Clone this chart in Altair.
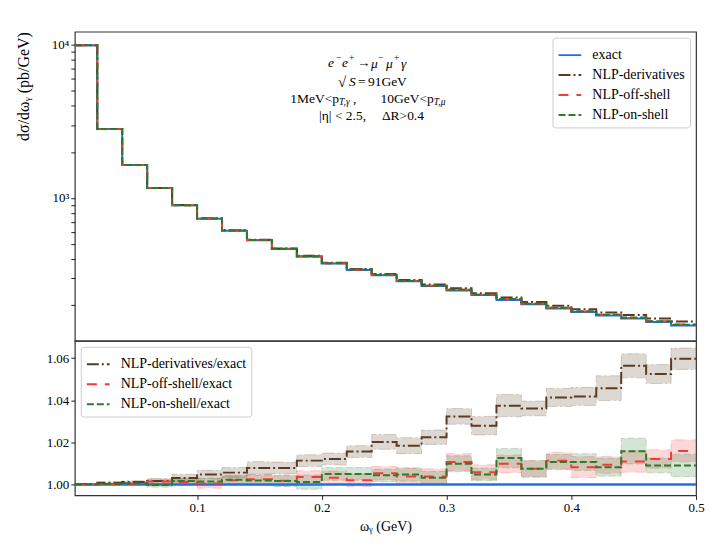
import altair as alt
import pandas as pd

# ---------------- data ----------------
edges = [0.002, 0.02, 0.04, 0.06, 0.08, 0.10, 0.12, 0.14, 0.16, 0.18, 0.20,
         0.22, 0.24, 0.26, 0.28, 0.30, 0.32, 0.34, 0.36, 0.38, 0.40,
         0.42, 0.44, 0.46, 0.48, 0.50]

exact = [9950, 2818, 1641, 1162, 896, 733, 612, 530, 465, 415, 373, 339,
         313, 286, 266, 249, 232, 216, 202, 190, 180, 171, 163, 155, 147]

r_deriv = [1.0002, 1.0008, 1.0011, 1.0016, 1.0030, 1.0047, 1.0056, 1.0078,
           1.0078, 1.0113, 1.0121, 1.0156, 1.0202, 1.0184, 1.0224, 1.0323,
           1.0279, 1.0374, 1.0361, 1.0413, 1.0418, 1.0457, 1.0563, 1.0524, 1.0597]
e_deriv = [0.0002, 0.0004, 0.0007, 0.0012, 0.0018, 0.0020, 0.0024, 0.0030,
           0.0028, 0.0028, 0.0028, 0.0028, 0.0035, 0.0038, 0.0034, 0.0037,
           0.0044, 0.0053, 0.0035, 0.0043, 0.0043, 0.0059, 0.0057, 0.0045, 0.0051]

r_off = [1.0000, 1.0001, 1.0003, 1.0014, 1.0011, 1.0004, 1.0020, 1.0025,
         1.0018, 1.0035, 1.0032, 1.0020, 1.0053, 1.0038, 1.0038, 1.0106,
         1.0058, 1.0098, 1.0074, 1.0113, 1.0082, 1.0093, 1.0109, 1.0121, 1.0159]
e_off = [0.0001, 0.0002, 0.0005, 0.0010, 0.0015, 0.0022, 0.0022, 0.0024,
         0.0026, 0.0030, 0.0032, 0.0030, 0.0032, 0.0038, 0.0036, 0.0040,
         0.0035, 0.0042, 0.0038, 0.0039, 0.0050, 0.0040, 0.0051, 0.0044, 0.0053]

r_on = [1.0000, 1.0002, 1.0005, 0.9997, 1.0016, 1.0014, 1.0022, 1.0019,
        1.0016, 1.0011, 1.0050, 1.0050, 1.0043, 1.0047, 1.0032, 1.0098,
        1.0047, 1.0125, 1.0074, 1.0106, 1.0106, 1.0082, 1.0158, 1.0090, 1.0090]
e_on = [0.0001, 0.0002, 0.0005, 0.0010, 0.0014, 0.0016, 0.0020, 0.0024,
        0.0026, 0.0034, 0.0030, 0.0030, 0.0030, 0.0032, 0.0030, 0.0038,
        0.0030, 0.0046, 0.0040, 0.0036, 0.0040, 0.0043, 0.0061, 0.0035, 0.0053]

top_names = ["exact", "NLP-derivatives", "NLP-off-shell", "NLP-on-shell"]
ratio_names = ["NLP-derivatives/exact", "NLP-off-shell/exact", "NLP-on-shell/exact"]

y_ticks_top = [200, 300, 400, 500, 600, 700, 800, 900, 1000,
               2000, 3000, 4000, 5000, 6000, 7000, 8000, 9000, 10000]
y_ticks_bottom = [1.00, 1.02, 1.04, 1.06]
x_ticks = [0.1, 0.2, 0.3, 0.4, 0.5]

# ---------------- styles ----------------
C_EXACT = "#1f6fe6"
C_DER = "#5b3b22"
C_OFF = "#f23a3a"
C_ON = "#2b7b2b"
DASH_SOLID = [1, 0]
DASH_DER = [12, 3, 2, 3]
DASH_OFF = [10, 8]
DASH_ON = [7, 3]
FONT = "Liberation Serif"
NB = "\u00a0"


def steps(vals):
    return list(vals) + [vals[-1]]


# top panel frame
rows = []
series_top = {
    "exact": exact,
    "NLP-derivatives": [a * b for a, b in zip(exact, r_deriv)],
    "NLP-off-shell": [a * b for a, b in zip(exact, r_off)],
    "NLP-on-shell": [a * b for a, b in zip(exact, r_on)],
}
for name, vals in series_top.items():
    for x, v in zip(edges, steps(vals)):
        rows.append({"series": name, "x": x, "y": v})
top_df = pd.DataFrame(rows)

# bottom panel frame
brows = []
for name, r, e in [(ratio_names[0], r_deriv, e_deriv),
                   (ratio_names[1], r_off, e_off),
                   (ratio_names[2], r_on, e_on)]:
    for x, v, err in zip(edges, steps(r), steps(e)):
        brows.append({"series": name, "x": x, "y": v, "lo": v - err, "hi": v + err})
bot_df = pd.DataFrame(brows)
one_df = pd.DataFrame({"x": [edges[0], edges[-1]], "y": [1.0, 1.0]})

xscale = alt.Scale(domain=[edges[0], edges[-1]], nice=False, zero=False)

# ---------------- top panel ----------------
top_color = alt.Scale(domain=top_names, range=[C_EXACT, C_DER, C_OFF, C_ON])
top_dash = alt.Scale(domain=top_names, range=[DASH_SOLID, DASH_DER, DASH_OFF, DASH_ON])
leg_common = dict(title=None, symbolType="stroke", symbolSize=520, symbolStrokeWidth=2,
                  labelFont=FONT, labelFontSize=14, labelOffset=10, rowPadding=0,
                  padding=5, fillColor="white", strokeColor="#cccccc", cornerRadius=3,
                  offset=6)
top_legend = alt.Legend(orient="top-right", **leg_common)

y_top = alt.Y("y:Q", scale=alt.Scale(type="log", domain=[116.7, 12200], nice=False),
              axis=alt.Axis(values=y_ticks_top,
                            labelExpr="datum.value == 1000 ? '10³' : datum.value == 10000 ? '10⁴' : ''",
                            title="dσ/dωᵧ (pb/GeV)", titleAnchor="end", titleFontSize=16,
                            titleFontWeight="normal", titlePadding=16,
                            minExtent=27, maxExtent=27, grid=False, tickSize=4,
                            labelFontSize=13))
x_top = alt.X("x:Q", scale=xscale, axis=None)

top_layers = []
for name in top_names:
    top_layers.append(
        alt.Chart(top_df).transform_filter(alt.datum.series == name)
        .mark_line(interpolate="step-after", strokeWidth=2)
        .encode(x=x_top, y=y_top,
                color=alt.Color("series:N", scale=top_color, legend=top_legend),
                strokeDash=alt.StrokeDash("series:N", scale=top_dash, legend=top_legend))
    )

ann = pd.DataFrame({"k": [0]})


def txt(s, x, y, size=13.5, align="center", style="normal"):
    return alt.Chart(ann).mark_text(text=s, font=FONT, fontSize=size, align=align,
                                    baseline="middle", fontStyle=style, color="black"
                                    ).encode(x=alt.value(x), y=alt.value(y))


annots = [
    # line 1: e- e+ -> mu- mu+ gamma
    txt("e", 254, 31, align="left", style="italic"),
    txt("−", 262, 26, size=9.5, align="left"),
    txt("e", 268, 31, align="left", style="italic"),
    txt("+", 275, 26, size=9.5, align="left"),
    txt("→", 283, 31, align="left"),
    txt("μ", 297, 32, align="left", style="italic"),
    txt("−", 304, 26, size=9.5, align="left"),
    txt("μ", 312, 32, align="left", style="italic"),
    txt("+", 320, 26, size=9.5, align="left"),
    txt("γ", 327, 32, align="left", style="italic"),
    # line 2
    txt("√", 264, 50, size=15, align="left"),
    txt("S", 275, 50, align="left", style="italic"),
    txt("=", 284, 50, align="left"),
    txt("91GeV", 294, 50, align="left"),
    # line 3
    txt("1MeV<p", 265, 68, align="right"),
    txt("T,γ", 265, 71, size=9.5, align="left", style="italic"),
    txt(",", 279, 68, align="left"),
    txt("10GeV<p", 360, 68, align="right"),
    txt("T,μ", 360, 71, size=9.5, align="left", style="italic"),
    # line 4
    txt("|η|" + NB + "<" + NB + "2.5,", 245, 85, align="left"),
    txt("ΔR>0.4", 308, 85, align="left"),
]

top = alt.layer(*top_layers, *annots).properties(width=623, height=310)

# ---------------- bottom panel ----------------
b_color = alt.Scale(domain=ratio_names, range=[C_DER, C_OFF, C_ON])
b_dash = alt.Scale(domain=ratio_names, range=[DASH_DER, DASH_OFF, DASH_ON])
b_legend = alt.Legend(orient="top-left", **leg_common)

x_bot = alt.X("x:Q", scale=xscale,
              axis=alt.Axis(values=x_ticks, format=".1f", title="ωᵧ (GeV)",
                            titleFontSize=14, titleFontWeight="normal", titlePadding=5,
                            grid=False, tickSize=4, labelFontSize=13, labelFlush=False))
y_scale_b = alt.Scale(domain=[0.9948, 1.0682], nice=False, zero=False)
y_bot = alt.Y("y:Q", scale=y_scale_b,
              axis=alt.Axis(values=y_ticks_bottom, format=".2f", title=None, grid=False,
                            tickSize=4, labelFontSize=13))

band_layers = []
edge_layers = []
for name, c, d in [(ratio_names[0], C_DER, DASH_DER), (ratio_names[1], C_OFF, DASH_OFF),
                   (ratio_names[2], C_ON, DASH_ON)]:
    base = alt.Chart(bot_df).transform_filter(alt.datum.series == name)
    band_layers.append(
        base.mark_area(interpolate="step-after", color=c, opacity=0.2)
        .encode(x=x_bot, y=alt.Y("lo:Q", scale=y_scale_b), y2="hi:Q"))
    for f in ["lo", "hi"]:
        edge_layers.append(
            base.mark_line(interpolate="step-after", color=c, opacity=0.22,
                           strokeWidth=1, strokeDash=d)
            .encode(x=x_bot, y=alt.Y(f"{f}:Q", scale=y_scale_b)))

exact_line = alt.Chart(one_df).mark_line(color=C_EXACT, strokeWidth=2.5).encode(x=x_bot, y=y_bot)

ratio_layers = []
for name in ratio_names:
    ratio_layers.append(
        alt.Chart(bot_df).transform_filter(alt.datum.series == name)
        .mark_line(interpolate="step-after", strokeWidth=2)
        .encode(x=x_bot, y=y_bot,
                color=alt.Color("series:N", scale=b_color, legend=b_legend),
                strokeDash=alt.StrokeDash("series:N", scale=b_dash, legend=b_legend))
    )

bottom = alt.layer(*band_layers, *edge_layers, exact_line, *ratio_layers).properties(
    width=623, height=155)

chart = (
    alt.vconcat(top, bottom, spacing=0, bounds="flush")
    .resolve_scale(color="independent", strokeDash="independent", y="independent")
    .properties(padding={"left": 7, "top": 22, "right": 5, "bottom": 5})
    .configure(font=FONT)
    .configure_view(stroke="#333333", strokeWidth=1.2)
    .configure_axis(domain=False, tickColor="#222222", labelColor="black",
                    titleColor="black", labelFont=FONT, titleFont=FONT)
)

chart.save("out.html", embed_options={"renderer": "svg", "actions": False})
